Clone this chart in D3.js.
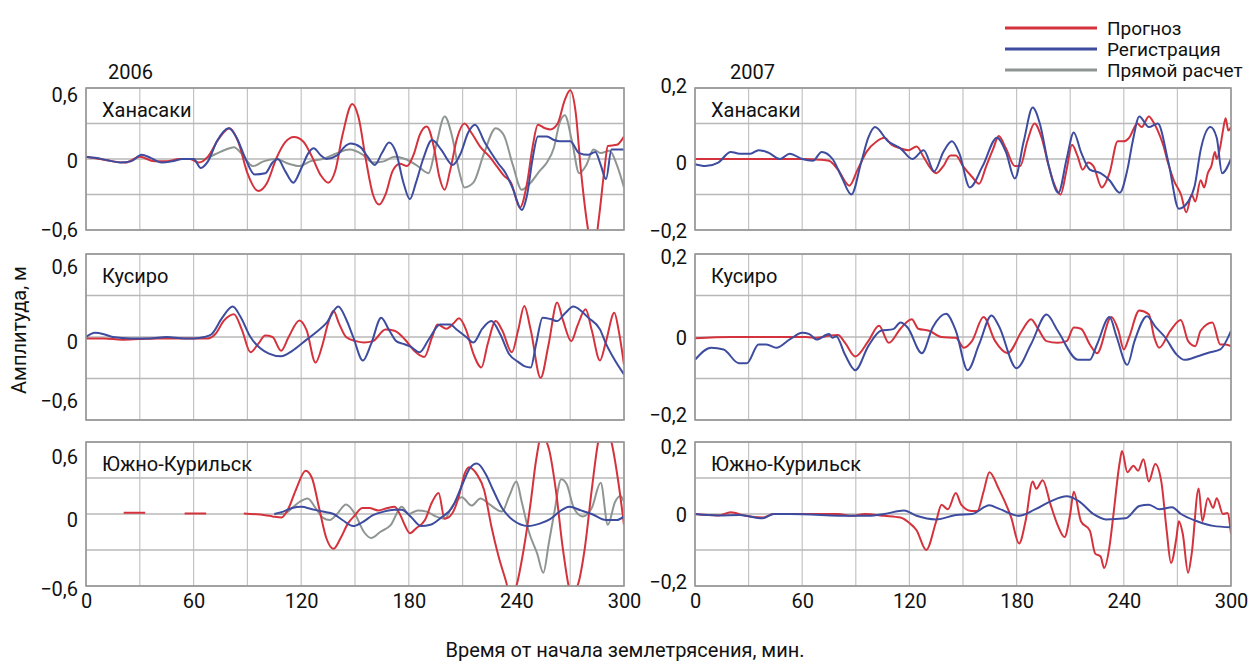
<!DOCTYPE html>
<html>
<head>
<meta charset="utf-8">
<script src="https://cdn.jsdelivr.net/npm/d3@7"></script>
<style>
  html, body { margin: 0; padding: 0; background: #fff; }
  svg { display: block; }
  text { font-family: "Roboto", "Liberation Sans", sans-serif; fill: #111; }
</style>
</head>
<body>
<svg id="chart" width="1259" height="664"></svg>
<script>
// ---------------- DATA ----------------
const years = ["2006", "2007"];
const stations = ["Ханасаки", "Кусиро", "Южно-Курильск"];
const seriesNames = ["Прогноз", "Регистрация", "Прямой расчет"];
const xTicks = [0, 60, 120, 180, 240, 300];
const yTicks2006 = [-0.6, 0, 0.6];
const yTicks2007 = [-0.2, 0, 0.2];
const xTitle = "Время от начала землетрясения, мин.";
const yTitle = "Амплитуда, м";

// 2006 Ханасаки
const han06Forecast = [[0,0.02],[8,0.0],[15,-0.02],[22,-0.03],[30,0.02],[38,-0.02],[45,-0.02],[52,0],[58,0.0],[63,-0.03],[68,0.02],[74,0.17],[80,0.26],[85,0.14],[90,-0.12],[96,-0.27],[101,-0.2],[106,0.0],[111,0.14],[116,0.185],[121,0.15],[126,0.02],[131,-0.14],[135,-0.2],[139,-0.1],[143,0.2],[148.5,0.465],[152,0.35],[156,0.0],[160,-0.3],[163.5,-0.385],[167,-0.3],[171,-0.1],[175,-0.04],[179,-0.06],[183,0.05],[186,0.2],[190,0.275],[194,0.1],[197,-0.15],[200,-0.26],[203,-0.1],[207,0.18],[211,0.30],[215,0.22],[220,0.1],[225,0.02],[229,-0.06],[233,-0.14],[237,-0.2],[242,-0.41],[246,-0.2],[249,0.1],[252,0.29],[256,0.26],[259,0.25],[263,0.3],[267,0.5],[270,0.58],[273,0.4],[276,-0.1],[280,-0.6],[283,-0.8],[286,-0.5],[289,-0.1],[291,0.11],[296,0.12],[300,0.19]];
const han06Record = [[0,0.02],[5,0.01],[12,-0.01],[19,-0.03],[25,-0.02],[31,0.035],[36,0.01],[42,-0.03],[48,-0.02],[54,0.0],[60,0.0],[64,-0.075],[68,-0.02],[73,0.15],[79.6,0.26],[84,0.18],[89,0.0],[94,-0.13],[100,-0.12],[104,-0.03],[107,0.0],[111,-0.1],[115.6,-0.2],[120,-0.08],[124,0.05],[127,0.09],[131,0.03],[134,0.0],[140,0.03],[144,0.1],[147.5,0.13],[153,0.1],[157,0.02],[161,-0.05],[165,0.05],[169,0.14],[173,0.05],[177,-0.2],[180.6,-0.34],[184,-0.2],[188,0.0],[193,0.16],[198,0.08],[204.5,-0.05],[209,0.05],[213,0.22],[217,0.29],[222,0.15],[226,0.05],[230,-0.04],[234,-0.12],[238,-0.25],[243,-0.43],[246,-0.3],[249,0.0],[252,0.19],[257,0.19],[261,0.16],[264,0.15],[270,0.15],[275,0.05],[280,0.035],[284,0.06],[287,-0.05],[290,-0.17],[293,0.08],[300,0.08]];
const han06Direct = [[60,0.0],[66,0.0],[72,0.04],[78,0.08],[82.5,0.1],[87,0.04],[93,-0.06],[99,-0.02],[106,0.0],[113,-0.04],[119,-0.06],[125,-0.02],[132,0.0],[140,0.05],[147,0.08],[154,0.04],[160,-0.03],[166,-0.02],[172,0.02],[178,0.0],[185,-0.06],[191,-0.12],[195,0.1],[200,0.36],[204,0.2],[208,-0.1],[211,-0.24],[216,-0.2],[222,0.05],[228.5,0.26],[233,0.2],[238,-0.05],[243,-0.26],[248,-0.2],[253,-0.1],[257,-0.03],[261,0.1],[264,0.3],[267,0.37],[271,0.15],[275,-0.12],[279,-0.05],[283,0.08],[287,0.05],[292,0.07],[296,-0.05],[300,-0.24]];

// 2006 Кусиро
const kus06Forecast = [[0,-0.01],[10,-0.01],[20,-0.02],[30,-0.015],[40,-0.01],[50,-0.01],[60,-0.01],[68,-0.01],[72,0.02],[77,0.12],[82.5,0.165],[87,0.05],[91.7,-0.11],[96,-0.05],[100,0.01],[104,0.0],[108.8,-0.1],[113,0.0],[119,0.12],[123,0.05],[128,-0.185],[132,-0.05],[135,0.1],[138,0.19],[141,0.1],[145,0.0],[150.5,-0.03],[155,-0.04],[160,-0.03],[167,0.055],[172,0.045],[178,-0.02],[183,-0.1],[188.6,-0.145],[193,0.0],[196,0.09],[201,0.06],[205,0.1],[208,0.135],[212,0.05],[216,-0.12],[220.5,-0.22],[224,-0.05],[228.5,0.115],[232,0.05],[237.5,-0.11],[241,0.05],[244.4,0.225],[248,0.05],[253.5,-0.295],[258,-0.05],[262.7,0.25],[266,0.12],[270.6,-0.03],[274,0.08],[278.6,0.2],[282,0.05],[286.6,-0.17],[290,-0.03],[294.6,0.175],[297,0.05],[300,-0.2]];
const kus06Record = [[0,0.0],[5,0.03],[10,0.02],[15,0.0],[25,-0.01],[35,-0.01],[45,0.0],[55,-0.01],[60,-0.01],[66,0.0],[70,0.02],[76,0.14],[81.8,0.22],[86,0.15],[91.7,0.0],[97,-0.08],[102,-0.12],[108.8,-0.14],[115,-0.1],[122,-0.03],[128,0.03],[134,0.1],[140.7,0.22],[145,0.13],[149,0.0],[154.4,-0.17],[159,-0.05],[164.6,0.14],[169,0.05],[173,-0.03],[177,-0.05],[181,-0.07],[186,-0.11],[191,-0.02],[197.5,0.09],[203,0.09],[207,0.05],[212,0.0],[216,-0.04],[221,0.06],[226,0.115],[231,0.02],[236,-0.125],[241,-0.18],[244.4,-0.21],[248,-0.22],[251,-0.05],[254.6,0.14],[259,0.13],[262.7,0.115],[267,0.17],[271.8,0.22],[276,0.19],[280,0.14],[286.6,0.055],[290,-0.05],[295,-0.17],[300,-0.27]];

// 2006 Южно-Курильск (NaN = gap in record)
const yuz06Forecast = [[21,0.01],[33,0.01],[34,NaN],[55,0.005],[67,0.005],[68,NaN],[88,0.005],[100,-0.01],[104,-0.02],[109,-0.03],[113,0.05],[117,0.2],[122.5,0.36],[126,0.3],[130,0.05],[134,-0.2],[138,-0.29],[142,-0.2],[146,-0.08],[150,-0.01],[154,0.05],[158,0.05],[163,0.03],[168,0.05],[172,0.06],[175,0.0],[178,-0.1],[180.6,-0.16],[184,-0.12],[189,-0.05],[193,0.1],[196.6,0.175],[200,-0.04],[204,0.0],[208,0.15],[211,0.33],[213.6,0.39],[218,0.33],[222,0.2],[226,-0.1],[230,-0.35],[234,-0.55],[237,-0.7],[240,-0.6],[244,-0.3],[248,0.1],[251,0.45],[254,0.65],[258,0.55],[262,0.2],[266,-0.3],[270.6,-0.65],[274,-0.6],[278,-0.3],[282,0.2],[285.6,0.6],[289,0.75],[293,0.6],[297,0.25],[300,-0.09]];
const yuz06Record = [[105,0.0],[110,0.02],[115,0.05],[120,0.06],[126,0.04],[132,0.02],[138,0.0],[143,-0.05],[149,-0.1],[154,-0.07],[160,-0.01],[166,0.02],[172,0.035],[176,0.035],[181,-0.02],[186.8,-0.1],[192,-0.09],[198,-0.03],[204,0.05],[210,0.25],[214,0.38],[218,0.42],[223,0.33],[227,0.2],[232,0.05],[238,-0.05],[246.6,-0.1],[253,-0.08],[259,-0.04],[264,0.02],[269.5,0.06],[276,0.03],[282,0.0],[290,-0.05],[296,-0.05],[300,-0.02]];
const yuz06Direct = [[105,0.0],[110,0.0],[115,0.05],[119,0.1],[123.6,0.13],[128,0.05],[132,-0.03],[136,-0.05],[140,0.0],[145,0.08],[150,0.0],[155,-0.15],[159,-0.2],[164,-0.15],[170,-0.09],[176,0.06],[180,0.0],[185,0.03],[190,0.02],[195,-0.02],[200,-0.04],[204,0.06],[209.6,0.14],[215,0.07],[220,0.13],[225,0.08],[232,0.02],[236,0.15],[240,0.27],[243,0.1],[247,-0.15],[251.6,-0.33],[255,-0.49],[258,-0.25],[261,0.0],[265,0.29],[268,0.25],[272,0.05],[277,-0.02],[282,0.05],[287,0.26],[291,-0.09],[295,0.1],[298,0.15],[300,0.1]];

// 2007 Ханасаки
const han07Forecast = [[0,0.0],[20,0.0],[40,0.0],[60,0.0],[70,-0.002],[75,-0.005],[80,-0.03],[86.4,-0.075],[91,-0.03],[96,0.02],[101.8,0.05],[106,0.06],[110,0.04],[115,0.03],[119.5,0.025],[124,0.035],[128,0.005],[131,-0.02],[135,-0.04],[139,-0.02],[143,0.01],[146,0.01],[150,-0.02],[155,-0.05],[159,-0.07],[163,-0.02],[167,0.03],[170,0.065],[174,0.03],[179,-0.02],[182,-0.02],[186,0.05],[190,0.1],[194,0.06],[198,-0.02],[201,-0.07],[204.6,-0.1],[208,-0.03],[211,0.04],[214,0.01],[217,-0.03],[220,-0.01],[223,-0.02],[227.7,-0.08],[232,-0.04],[236.6,0.05],[240,0.05],[243,0.06],[247.6,0.1],[250,0.09],[254,0.12],[257,0.1],[259,0.08],[262,0.04],[265,-0.015],[268,-0.06],[272,-0.1],[275,-0.15],[278,-0.1],[280,-0.12],[283,-0.06],[285,-0.08],[287,-0.04],[289,-0.02],[291,0.02],[292,0.0],[294,0.035],[295.5,0.08],[297,0.115],[298.5,0.08],[300,0.09]];
const han07Record = [[0,-0.015],[5.7,-0.02],[13,-0.01],[20,0.02],[25,0.015],[31,0.015],[35.6,0.025],[41,0.018],[47.7,0.0],[53,0.015],[60,0.0],[66,-0.005],[70.9,0.02],[77,0.0],[82,-0.05],[87.5,-0.1],[93,-0.01],[97,0.06],[100.7,0.09],[108,0.05],[115,0.03],[121.7,0.0],[128,0.025],[133.9,-0.035],[139,0.02],[143.8,0.05],[148,0.015],[153.8,-0.08],[161,-0.02],[169,0.06],[174,0.02],[179,-0.055],[184,0.05],[189,0.145],[193,0.1],[198,-0.02],[203.4,-0.095],[208,0.0],[212,0.075],[216,0.02],[221,-0.03],[227,-0.04],[232,-0.06],[237.7,-0.095],[242,-0.03],[245,0.05],[248.7,0.12],[254,0.09],[259,0.1],[265,-0.01],[270.8,-0.14],[276,-0.12],[279.7,-0.075],[283,0.025],[288.5,0.09],[292,0.06],[295,-0.04],[300,0.0]];

// 2007 Кусиро
const kus07Forecast = [[0,-0.003],[20,0.0],[40,0.0],[55,0.0],[62,0.0],[68,-0.002],[75,0.003],[80,0.005],[84,-0.014],[89.7,-0.047],[97,-0.01],[103,0.027],[108.5,-0.014],[115,0.02],[121.3,0.043],[125,0.02],[131,0.015],[137.8,0.0],[146,-0.002],[150.5,-0.026],[155,-0.01],[161.5,0.048],[168,-0.01],[175,-0.039],[183,0.015],[188,0.043],[192,0.02],[196.7,-0.01],[203,-0.014],[208,-0.01],[212,0.023],[216,0.02],[221,-0.018],[225,-0.039],[233,0.048],[237,0.015],[240,-0.03],[243,0.0],[248.7,0.064],[254,0.055],[257,0.0],[259.8,-0.026],[266,0.015],[271.9,0.041],[276,-0.01],[280,-0.022],[283,0.015],[289.6,0.035],[294,-0.018],[297,-0.018],[300,-0.022]];
const kus07Record = [[0,-0.055],[9,-0.026],[16,-0.03],[24.5,-0.063],[29,-0.063],[35.6,-0.018],[40,-0.018],[45.5,-0.026],[53,-0.006],[60,0.01],[64,0.007],[68,-0.006],[75,0.007],[77,-0.002],[79,0.002],[84,-0.043],[89.7,-0.08],[97,-0.022],[104,0.015],[111,0.019],[115,0.035],[119,0.023],[127,-0.039],[133,0.023],[140.5,0.056],[146,0.015],[152.6,-0.08],[159,-0.018],[166,0.052],[170,0.027],[180,-0.075],[188,-0.018],[196.8,0.054],[203,0.015],[214.5,-0.055],[221,-0.055],[225,-0.018],[232,0.048],[236,0.0],[242,-0.067],[246,-0.01],[253,0.05],[258,0.023],[263,0.0],[269.7,-0.043],[274,-0.055],[281,-0.047],[287.4,-0.038],[294,-0.03],[300,0.015]];

// 2007 Южно-Курильск
const yuz07Forecast = [[0,0.0],[13,-0.004],[20,0.005],[28,-0.005],[37.8,-0.01],[44,0.0],[60,0.0],[80,0.0],[88,-0.005],[95,0.0],[106,-0.005],[115,-0.01],[120,-0.025],[124,-0.045],[129.4,-0.1],[135,-0.02],[138,0.026],[141.5,0.013],[146,0.058],[149,0.026],[154.9,0.008],[158,0.008],[161.5,0.062],[164.8,0.116],[170,0.07],[177,-0.01],[181.4,-0.082],[185,-0.02],[189,0.09],[191,0.07],[194.6,0.094],[199,0.026],[203.5,-0.037],[206.8,-0.064],[210,0.0],[212,0.062],[216,-0.02],[221,-0.046],[224,-0.11],[227,-0.118],[229,-0.15],[232,-0.09],[234,-0.01],[237.7,0.143],[239,0.175],[242,0.116],[245.4,0.134],[248,0.12],[251,0.152],[254,0.09],[257.6,0.139],[261,0.09],[264,-0.046],[266.4,-0.136],[269.5,-0.064],[270.8,-0.02],[273,-0.055],[276,-0.163],[278,-0.11],[281.9,0.071],[284,-0.02],[287,0.044],[290,0.017],[292,0.044],[295.5,0.0],[298,0.003],[300,-0.055]];
const yuz07Record = [[0,0.0],[13,-0.004],[25,-0.003],[37.8,-0.012],[44,0.0],[53,0.0],[88,-0.005],[97,-0.005],[106,0.0],[117,0.01],[124,-0.005],[135,-0.015],[146,-0.003],[155,0.0],[164.8,0.024],[170,0.015],[181.4,-0.005],[190,0.012],[199,0.035],[208,0.049],[215,0.035],[223,0.0],[230,-0.015],[241,-0.012],[248.7,0.022],[254,0.026],[260,0.013],[267,0.019],[272,0.0],[281,-0.02],[290,-0.033],[300,-0.037]];

// ---------------- LAYOUT ----------------
const colors = { forecast: "#d4333d", record: "#3d4c9e", direct: "#8f9692" };
const cols = [[86, 624], [695, 1231]];
const rows = [[88, 230], [254, 420], [442, 586]];
// per-panel tick label shifts [top, middle, bottom] in px
const labelShift = [
  [[6, 1, -1], [12, 4, -20], [14, 5, 2]],
  [[-3, 3, 0], [2, 0, -6], [4, 0, -5]]
];

const panels = [
  { col: 0, row: 0, st: 0, ticks: yTicks2006, s: { direct: han06Direct, forecast: han06Forecast, record: han06Record } },
  { col: 0, row: 1, st: 1, ticks: yTicks2006, s: { forecast: kus06Forecast, record: kus06Record } },
  { col: 0, row: 2, st: 2, ticks: yTicks2006, s: { direct: yuz06Direct, forecast: yuz06Forecast, record: yuz06Record } },
  { col: 1, row: 0, st: 0, ticks: yTicks2007, s: { forecast: han07Forecast, record: han07Record } },
  { col: 1, row: 1, st: 1, ticks: yTicks2007, s: { forecast: kus07Forecast, record: kus07Record } },
  { col: 1, row: 2, st: 2, ticks: yTicks2007, s: { forecast: yuz07Forecast, record: yuz07Record } }
];

const svg = d3.select("#chart");
const fs = 20;
const loc = d3.formatLocale({ decimal: ",", thousands: " ", grouping: [3], currency: ["", ""], minus: "\u2212" });
const f1 = loc.format(".1f");
const tickFmt = v => (v === 0 ? "0" : f1(v));

const defs = svg.append("defs");

panels.forEach((p, i) => {
  const [x0, x1] = cols[p.col];
  const [y0, y1] = rows[p.row];
  const yMax = p.ticks[2];
  const x = d3.scaleLinear().domain([0, 300]).range([x0, x1]);
  const y = d3.scaleLinear().domain([-yMax, yMax]).range([y1, y0]);
  const g = svg.append("g");

  // grid
  const vGrid = d3.range(0, 301, 30);
  const hGrid = [-yMax, -yMax / 2, 0, yMax / 2, yMax];
  g.append("g").selectAll("line").data(vGrid).join("line")
    .attr("x1", d => x(d)).attr("x2", d => x(d)).attr("y1", y0).attr("y2", y1)
    .attr("stroke", "#c3c3c3").attr("stroke-width", 1.2);
  g.append("g").selectAll("line").data(hGrid).join("line")
    .attr("x1", x0).attr("x2", x1).attr("y1", d => y(d)).attr("y2", d => y(d))
    .attr("stroke", "#b8b8b8").attr("stroke-width", 1.4);

  // clip
  const cid = "clip" + i;
  defs.append("clipPath").attr("id", cid).append("rect")
    .attr("x", x0).attr("y", y0).attr("width", x1 - x0).attr("height", y1 - y0);

  const line = d3.line().defined(d => !isNaN(d[1]))
    .x(d => x(d[0])).y(d => y(d[1])).curve(d3.curveMonotoneX);
  const lg = g.append("g").attr("clip-path", `url(#${cid})`);
  ["direct", "forecast", "record"].forEach(k => {
    if (!p.s[k]) return;
    lg.append("path").datum(p.s[k]).attr("d", line)
      .attr("fill", "none").attr("stroke", colors[k]).attr("stroke-width", 2)
      .attr("stroke-linejoin", "round");
  });

  // frame
  g.append("rect").attr("x", x0).attr("y", y0).attr("width", x1 - x0).attr("height", y1 - y0)
    .attr("fill", "none").attr("stroke", "#979797").attr("stroke-width", 1.6);

  // y tick labels via axis
  const ax = g.append("g").attr("transform", `translate(${x0 - 8},0)`)
    .call(d3.axisLeft(y).tickValues(p.ticks).tickFormat(tickFmt).tickSize(0).tickPadding(0));
  ax.select(".domain").remove();
  ax.attr("font-family", null).attr("font-size", null);
  ax.selectAll("text").attr("font-size", fs).attr("fill", "#111")
    .attr("dy", (d, j) => (labelShift[p.col][p.row][2 - j] + fs * 0.35) + "px");

  // x axis labels on bottom row
  if (p.row === 2) {
    const xa = g.append("g").attr("transform", `translate(0,${y1 + 8})`)
      .call(d3.axisBottom(x).tickValues(xTicks).tickFormat(d => d).tickSize(0).tickPadding(0));
    xa.select(".domain").remove();
    xa.attr("font-family", null).attr("font-size", null);
    xa.selectAll("text").attr("font-size", fs).attr("fill", "#111").attr("dy", "0.71em");
  }

  // station label
  g.append("text").attr("x", x0 + 16).attr("y", y0 + 22).attr("dy", "0.35em")
    .attr("font-size", fs).text(stations[p.st]);

  if (p.row === 0) {
    g.append("text").attr("x", p.col === 0 ? 108 : 730).attr("y", 72).attr("dy", "0.35em")
      .attr("font-size", fs).text(years[p.col]);
  }
});

// axis titles
svg.append("text").attr("transform", "translate(19,330) rotate(-90)")
  .attr("text-anchor", "middle").attr("dy", "0.35em").attr("font-size", fs).text(yTitle);
svg.append("text").attr("x", 625).attr("y", 650).attr("text-anchor", "middle")
  .attr("dy", "0.35em").attr("font-size", fs).text(xTitle);

// legend
const legendKeys = ["forecast", "record", "direct"];
const lgd = svg.append("g");
legendKeys.forEach((k, i) => {
  const yy = 28 + i * 21;
  lgd.append("line").attr("x1", 1005).attr("x2", 1097).attr("y1", yy).attr("y2", yy)
    .attr("stroke", colors[k]).attr("stroke-width", 3);
  lgd.append("text").attr("x", 1107).attr("y", yy).attr("dy", "0.35em")
    .attr("font-size", 19).text(seriesNames[i]);
});
</script>
</body>
</html>
